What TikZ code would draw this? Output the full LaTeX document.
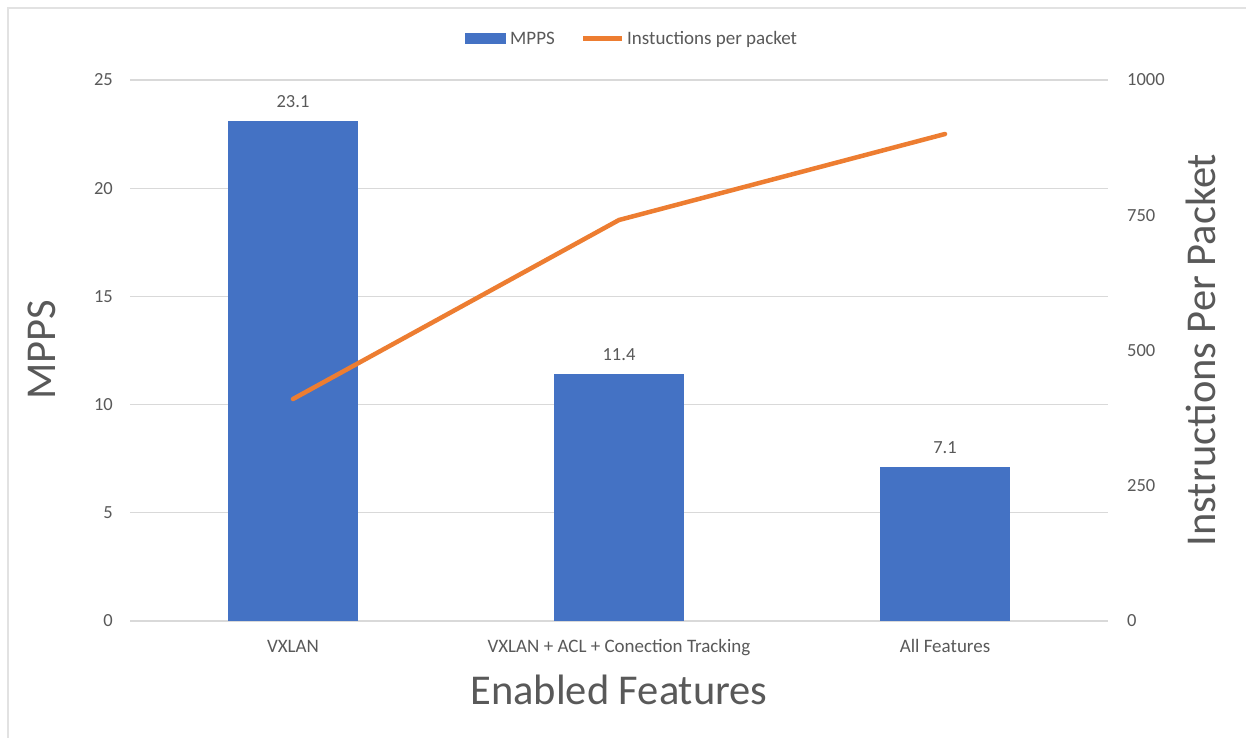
\documentclass[tikz,border=0pt]{standalone}
\usepackage{fontspec}
\setmainfont{Carlito}
\definecolor{barblue}{HTML}{4472C4}
\definecolor{lineorange}{HTML}{ED7D31}
\definecolor{txtgray}{HTML}{595959}
\definecolor{gridgray}{HTML}{D9D9D9}
\definecolor{framegray}{HTML}{E2E2E2}
\begin{document}
\begin{tikzpicture}[x=1pt,y=-1pt,
  tick/.style={text=txtgray,font=\fontsize{18.5}{20}\selectfont,inner sep=0pt},
  cat/.style={text=txtgray,font=\fontsize{19}{21}\selectfont,inner sep=0pt,text height=0.86em,text depth=0.2em},
  axtitle/.style={text=txtgray,font=\fontsize{42.5}{46}\selectfont,inner sep=0pt},
  vallab/.style={text=txtgray,font=\fontsize{18.5}{20}\selectfont,inner sep=0pt},
  leg/.style={text=txtgray,font=\fontsize{19}{21}\selectfont,inner sep=0pt,anchor=west,text height=0.86em,text depth=0.2em},
  bar/.style={fill=barblue,draw=none},
  grid/.style={draw=gridgray,line width=1.3pt},
  series/.style={draw=lineorange,line width=4.5pt,line cap=round,line join=round}]
\useasboundingbox (0,0) rectangle (1246,738);
\fill[white] (0,0) rectangle (1246,738);
% frame
\draw[framegray,line width=2pt] (8,738) -- (8,8.5) -- (1246,8.5);
% gridlines
\foreach \yy in {80,188.2,296.4,404.6,512.8,621}
  \draw[grid] (130,\yy) -- (1108,\yy);
% left ticks
\foreach \v/\yy in {0/621,5/512.8,10/404.6,15/296.4,20/188.2,25/80}
  \node[tick,anchor=east] (l\v) at (113,\yy) {\v};
% right ticks
\foreach \v/\yy in {0/621,250/485.75,500/350.5,750/215.25,1000/80}
  \node[tick,anchor=west] (r\v) at (1127,\yy) {\v};
% bars
\fill[bar] (228,121.1) rectangle (358,621);
\fill[bar] (554,374.3) rectangle (684,621);
\fill[bar] (880,467.4) rectangle (1010,621);
% value labels
\node[vallab] (v1) at (293,102) {23.1};
\node[vallab] (v2) at (619,355) {11.4};
\node[vallab] (v3) at (945,447.5) {7.1};
% line series
\coordinate (p1) at (293,399);
\coordinate (p2) at (619,220);
\coordinate (p3) at (945,134);
\draw[series] (p1) -- (p2) -- (p3);
% categories
\node[cat] (c1) at (293,649) {VXLAN};
\node[cat] (c2) at (619,649) {VXLAN + ACL + Conection Tracking};
\node[cat] (c3) at (945,649) {All Features};
% axis titles
\node[axtitle] (xt) at (619,690) {Enabled Features};
\node[axtitle,rotate=90] (yl) at (42,350) {MPPS};
\node[axtitle,rotate=90] (yr) at (1201,350) {Instructions Per Packet};
% legend
\fill[barblue] (465,33) rectangle (506,44);
\node[leg] (lg1) at (510,41.5) {MPPS};
\coordinate (lo1) at (583,38.5);
\coordinate (lo2) at (622,38.5);
\draw[draw=lineorange,line width=4.5pt] (lo1) -- (lo2);
\node[leg] (lg2) at (627,41.5) {Instuctions per packet};
\end{tikzpicture}
\end{document}
